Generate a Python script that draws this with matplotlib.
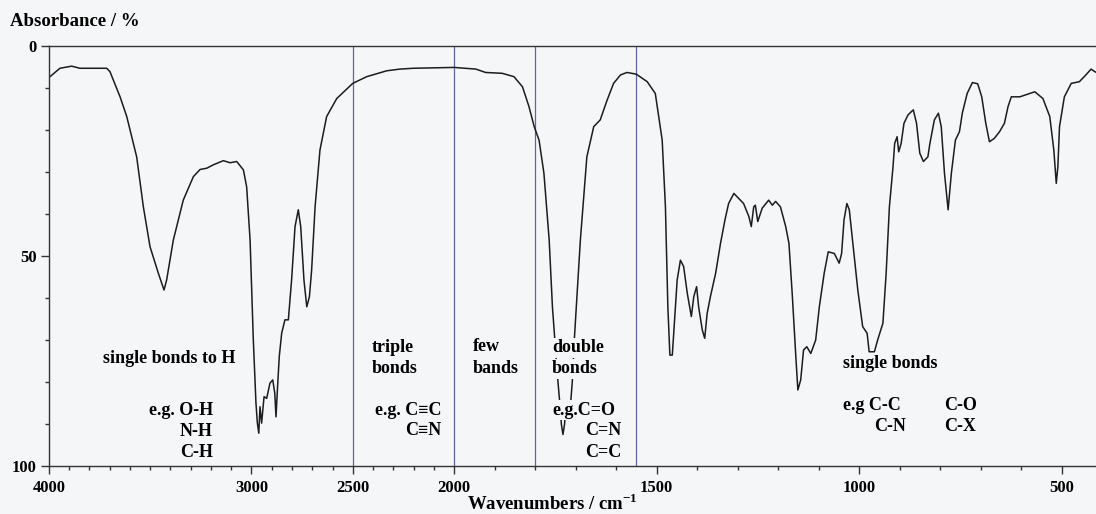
import numpy as np
import matplotlib
matplotlib.use("Agg")
import matplotlib.pyplot as plt

# IR spectrum (wavenumber in cm-1, absorbance in %)
wavenumber = [4000, 3946, 3888, 3847, 3715, 3699, 3649, 3616, 3567, 3534, 3501, 3460,
              3432, 3419, 3386, 3337, 3287, 3254, 3221, 3189, 3139, 3106, 3073, 3040,
              3024, 3007, 2991, 2978, 2971, 2964, 2958, 2950, 2938, 2925, 2909, 2895,
              2885, 2879, 2873, 2863, 2851, 2835, 2818, 2802, 2785, 2769, 2757, 2741,
              2727, 2714, 2703, 2686, 2662, 2629, 2579, 2500, 2431, 2332, 2267, 2201,
              2000, 1946, 1922, 1881, 1852, 1831, 1815, 1802, 1790, 1778, 1765, 1757,
              1751, 1745, 1738, 1735, 1731, 1727, 1725, 1712, 1708, 1703, 1688, 1672,
              1655, 1639, 1622, 1606, 1589, 1573, 1550, 1523, 1503, 1486, 1478, 1472,
              1467, 1461, 1456, 1449, 1441, 1433, 1424, 1414, 1408, 1401, 1396, 1387,
              1381, 1375, 1367, 1354, 1342, 1331, 1322, 1309, 1297, 1285, 1272, 1266,
              1260, 1256, 1250, 1239, 1223, 1214, 1206, 1194, 1181, 1173, 1165, 1156,
              1151, 1144, 1137, 1129, 1119, 1107, 1098, 1086, 1076, 1061, 1049, 1043,
              1037, 1030, 1024, 1016, 1003, 991, 980, 975, 962, 954, 941, 933,
              925, 916, 912, 906, 902, 896, 889, 879, 866, 858, 850, 841,
              830, 825, 814, 804, 797, 789, 780, 772, 762, 752, 745, 733,
              720, 707, 697, 687, 678, 666, 653, 641, 632, 624, 603, 566,
              546, 529, 519, 513, 509, 505, 493, 476, 456, 440, 427, 418, 409]
absorbance = [7.5, 5.3, 4.8, 5.3, 5.3, 6.1, 12.1, 16.8, 26.4, 38.3, 47.8, 54.1,
              58.1, 55.7, 46.2, 36.7, 31.1, 29.4, 29.1, 28.3, 27.3, 27.8, 27.5, 29.5,
              33.5, 46.2, 70, 85, 89.8, 92.2, 85.9, 89.8, 83.5, 83.9, 80.3, 79.5,
              82.7, 88.3, 82.7, 74, 68.4, 65.2, 65.2, 55.7, 43, 39, 43, 55.7,
              62.1, 59.7, 53.3, 38.3, 24.8, 16.8, 12.5, 8.9, 7.3, 5.9, 5.5, 5.3,
              5.1, 5.5, 6.3, 6.5, 7.3, 9.7, 14.4, 19.2, 22.4, 30.3, 46.2, 62.1,
              70, 78, 86, 90, 92.5, 90, 87, 85, 80, 70, 46.2, 26.4,
              19.2, 17.6, 12.9, 8.9, 6.9, 6.3, 6.7, 8.5, 11.3, 22.4, 38.3, 62.1,
              73.6, 73.6, 66, 55.7, 51, 52.5, 58.9, 64.4, 59.7, 57.3, 62.1, 67.6,
              69.6, 63.7, 59.7, 54.1, 47, 41.4, 37.5, 35.1, 36.3, 37.5, 40.6, 43,
              38.3, 37.9, 41.8, 38.6, 36.7, 37.9, 37, 38.3, 43, 47, 58.9, 74,
              81.9, 79.5, 72.4, 71.6, 73.2, 70, 62.1, 54.1, 49, 49.4, 51.7, 49.4,
              41.4, 37.5, 39, 46.2, 58.1, 66.8, 68.4, 72.8, 72.8, 70, 66, 54.1,
              38.3, 28.7, 23.2, 21.6, 25.2, 23.2, 18.4, 16.4, 15.2, 18.4, 25.5, 27.5,
              26.4, 23.2, 17.6, 16, 19.2, 30.3, 39, 30.3, 22.4, 20.4, 16, 11.3,
              8.7, 9, 12.1, 18.4, 22.8, 22, 20.4, 18.4, 14.4, 12.1, 12.1, 10.9,
              12.5, 16.8, 24.8, 32.7, 28.7, 19.2, 12.1, 8.9, 8.5, 6.9, 5.5, 6.1, 6.5]

region_lines = [2500, 2000, 1800, 1550]
xtick_values = [4000, 3000, 2500, 2000, 1500, 1000, 500]
ytick_values = [0, 50, 100]

# (text, wavenumber, absorbance, alignment)
annotations = [
    ("single bonds to H", 3733, 74.3, "left"),
    ("e.g. O-H", 3190, 86.9, "right"),
    ("N-H", 3190, 91.9, "right"),
    ("C-H", 3190, 96.9, "right"),
    ("triple", 2405, 71.9, "left"),
    ("bonds", 2405, 76.8, "left"),
    ("e.g. C\u2261C", 2064, 86.7, "right"),
    ("C\u2261N", 2064, 91.5, "right"),
    ("few", 1953, 71.6, "left"),
    ("bands", 1953, 76.8, "left"),
    ("double", 1758, 71.9, "left"),
    ("bonds", 1758, 76.9, "left"),
    ("e.g.C=O", 1758, 86.7, "left"),
    ("C=N", 1587, 91.6, "right"),
    ("C=C", 1587, 96.9, "right"),
    ("single bonds", 1039, 75.5, "left"),
    ("e.g C-C", 1039, 85.7, "left"),
    ("C-O", 789, 85.7, "left"),
    ("C-N", 962, 90.7, "left"),
    ("C-X", 789, 90.7, "left"),
]


def fwd(w):
    # below 2000 cm-1 the axis is stretched twice as much
    w = np.asarray(w, dtype=float)
    return np.where(w >= 2000, w, 2 * w - 2000)


def inv(u):
    u = np.asarray(u, dtype=float)
    return np.where(u >= 2000, u, (u + 2000) / 2)


bg = "#f5f6f8"
plt.rcParams["font.family"] = ["Liberation Serif", "DejaVu Serif"]
plt.rcParams["font.weight"] = "bold"
plt.rcParams["mathtext.fontset"] = "custom"
plt.rcParams["mathtext.rm"] = "Liberation Serif:bold"
plt.rcParams["mathtext.bf"] = "Liberation Serif:bold"

fig = plt.figure(figsize=(10.96, 5.14), dpi=100, facecolor=bg)
ax = fig.add_axes([0.0447, 0.0934, 0.9608, 0.8171], facecolor=bg)
ax.set_xscale("function", functions=(fwd, inv))

for w in region_lines:
    ax.axvline(w, color="#5c67a8", lw=0.9, zorder=1)

ax.plot(wavenumber, absorbance, color="#1c1c1c", lw=1.1, zorder=2)

ax.set_xlim(4000, 400)
ax.set_ylim(100, 0)

ax.set_xticks(xtick_values)
ax.set_xticklabels([str(v) for v in xtick_values])
ax.set_xticks(np.arange(4000, 399, -100), minor=True)
ax.set_yticks(ytick_values)
ax.set_yticks(np.arange(0, 101, 10), minor=True)
ax.tick_params(axis="both", which="major", length=6, width=1, color="#333333",
               labelsize=12, pad=3)
ax.tick_params(axis="both", which="minor", length=3, width=1, color="#333333")
ax.tick_params(axis="x", which="major", pad=4)

for side in ["top", "left", "bottom"]:
    ax.spines[side].set_color("#333333")
    ax.spines[side].set_linewidth(1.0)
ax.spines["right"].set_visible(False)

for txt, w, a, ha in annotations:
    ax.text(w, a, txt, ha=ha, va="center", fontsize=13, fontweight="bold", zorder=3,
            bbox=dict(facecolor=bg, edgecolor="none", pad=1.0))

fig.text(10 / 1096, 1 - 22 / 514, "Absorbance / %", ha="left", va="center",
         fontsize=13.5, fontweight="bold")
fig.text(552 / 1096, 1 - 510 / 514, r"Wavenumbers / cm$^{-1}$", ha="center",
         va="baseline", fontsize=13.5, fontweight="bold")

fig.savefig("out.png", dpi=100, facecolor=bg)
